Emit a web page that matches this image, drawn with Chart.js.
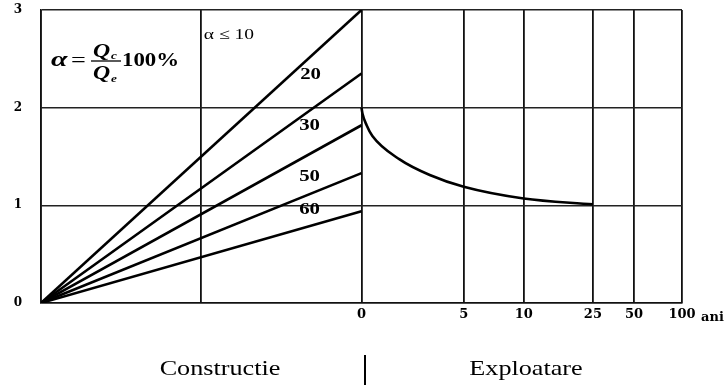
<!DOCTYPE html>
<html>
<head>
<meta charset="utf-8">
<script src="https://cdn.jsdelivr.net/npm/chart.js@4/dist/chart.umd.min.js"></script>
<style>
  html, body { margin: 0; padding: 0; background: #fff; }
  #wrap { width: 725px; height: 385px; }
</style>
</head>
<body>
<div id="wrap"><canvas id="chart"></canvas></div>
<script>
// Ponderea costului de constructie fata de exploatare

// axa orizontala: -1..0 constructie, 0..1 exploatare (scara comprimata)
const yearLabels = ['0', '5', '10', '25', '50', '100'];
const yearPos = [0, 0.319, 0.506, 0.722, 0.85, 1];

// fascicul de drepte pentru diferite valori alpha
const alphaLabels = ['α ≤ 10', '20', '30', '50', '60'];
const alphaEnds = [3.0, 2.35, 1.82, 1.33, 0.94];

// curba de exploatare
const curveX = [0, 0.003, 0.016, 0.034, 0.119, 0.213, 0.319, 0.506, 0.722];
const curveY = [2.0, 1.94, 1.82, 1.71, 1.47, 1.31, 1.19, 1.07, 1.01];

const yTicks = [0, 1, 2, 3];

const SERIF = '"Liberation Serif", "Times New Roman", serif';
const TICK_FONT = '"DejaVu Serif", serif';

const fanSets = alphaEnds.map((v, i) => ({
  label: alphaLabels[i],
  data: [{ x: -1, y: 0 }, { x: 0, y: v }],
  borderColor: '#000',
  borderWidth: 2.6,
  pointRadius: 0,
}));

const curveSet = {
  label: 'exploatare',
  data: curveX.map((x, i) => ({ x, y: curveY[i] })),
  borderColor: '#000',
  borderWidth: 2.6,
  pointRadius: 0,
  cubicInterpolationMode: 'monotone',
};

// text latit pe orizontala, ca in desenul original
function wideText(ctx, text, x, y, sx, align) {
  ctx.save();
  ctx.translate(x, y);
  ctx.scale(sx, 1);
  ctx.textAlign = align || 'left';
  ctx.textBaseline = 'alphabetic';
  ctx.fillText(text, 0, 0);
  ctx.restore();
}

const textPlugin = {
  id: 'texte',
  afterDraw(chart) {
    const { ctx, scales: { x, y } } = chart;
    ctx.save();
    ctx.fillStyle = '#000';
    ctx.strokeStyle = '#000';

    // etichete pe drepte
    ctx.font = '15px ' + SERIF;
    wideText(ctx, alphaLabels[0], x.getPixelForValue(-0.492), y.getPixelForValue(2.70), 1.3);
    ctx.font = 'bold 16px ' + SERIF;
    const spots = [[-0.159, 2.29], [-0.162, 1.77], [-0.162, 1.25], [-0.162, 0.91]];
    spots.forEach(([px, py], i) => {
      wideText(ctx, alphaLabels[i + 1], x.getPixelForValue(px), y.getPixelForValue(py), 1.3, 'center');
    });

    // formula alpha = Qc / Qe 100%
    ctx.font = 'bold italic 22px ' + SERIF;
    wideText(ctx, 'α', 51, 66, 1.35);
    ctx.font = '21px ' + SERIF;
    wideText(ctx, '=', 71, 67, 1.25);
    ctx.font = 'bold italic 19px ' + SERIF;
    wideText(ctx, 'Q', 93, 57, 1.25);
    wideText(ctx, 'Q', 93, 79, 1.25);
    ctx.font = 'bold italic 11px ' + SERIF;
    wideText(ctx, 'c', 111, 59, 1.2);
    wideText(ctx, 'e', 111, 82, 1.2);
    ctx.lineWidth = 1.3;
    ctx.beginPath();
    ctx.moveTo(91, 61);
    ctx.lineTo(121, 61);
    ctx.stroke();
    ctx.font = 'bold 18px ' + SERIF;
    wideText(ctx, '100%', 122, 66, 1.27);

    // unitatea axei x
    ctx.font = 'bold 13px ' + TICK_FONT;
    wideText(ctx, 'ani', 701, 321, 1);

    // faze
    ctx.font = '22px ' + SERIF;
    wideText(ctx, 'Constructie', 220, 375, 1.19, 'center');
    wideText(ctx, 'Exploatare', 526, 375, 1.19, 'center');
    ctx.lineWidth = 2;
    ctx.beginPath();
    ctx.moveTo(365, 355);
    ctx.lineTo(365, 385);
    ctx.stroke();
    ctx.restore();
  },
};

new Chart(document.getElementById('chart'), {
  type: 'line',
  data: { datasets: [...fanSets, curveSet] },
  plugins: [textPlugin],
  options: {
    responsive: true,
    maintainAspectRatio: false,
    animation: false,
    layout: { padding: { top: 10, right: 43, left: 0, bottom: 0 } },
    plugins: { legend: { display: false }, tooltip: { enabled: false } },
    scales: {
      x: {
        type: 'linear',
        min: -1,
        max: 1,
        afterFit: (axis) => { axis.height = 82; },
        afterBuildTicks: (axis) => {
          axis.ticks = [-1, -0.5, ...yearPos].map((v) => ({ value: v }));
        },
        border: { color: '#111', width: 1.5 },
        grid: { color: '#111', lineWidth: 1.8, drawTicks: false },
        ticks: {
          autoSkip: false,
          maxRotation: 0,
          padding: 4,
          color: '#000',
          font: { family: TICK_FONT, size: 13, weight: 'bold' },
          callback: (v) => {
            const i = yearPos.indexOf(v);
            return i >= 0 ? yearLabels[i] : '';
          },
        },
      },
      y: {
        min: 0,
        max: 3,
        afterFit: (axis) => {
          axis.width = 41;
          // padding-ul etichetelor nu trebuie sa impinga zona graficului in jos
          axis.paddingTop = 0;
          axis.paddingBottom = 0;
        },
        afterBuildTicks: (axis) => {
          axis.ticks = yTicks.map((v) => ({ value: v }));
        },
        border: { color: '#111', width: 1.5 },
        grid: { color: '#222', lineWidth: 1.4, drawTicks: false },
        ticks: {
          padding: 19,
          color: '#000',
          font: { family: TICK_FONT, size: 12, weight: 'bold' },
        },
      },
    },
  },
});
</script>
</body>
</html>
